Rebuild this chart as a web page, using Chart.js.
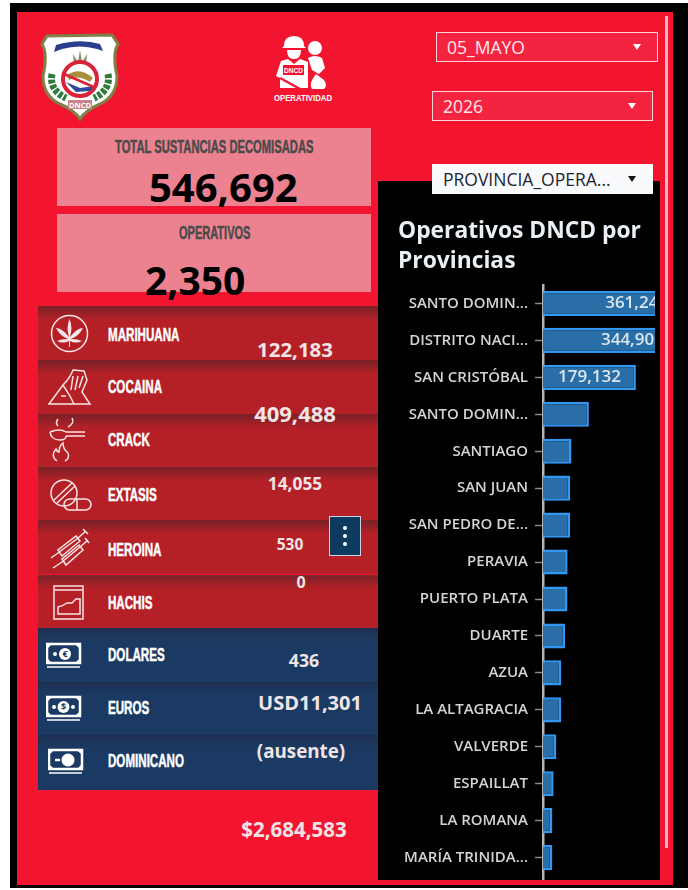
<!DOCTYPE html>
<html>
<head>
<meta charset="utf-8">
<title>Operativos DNCD</title>
<script src="https://cdn.jsdelivr.net/npm/chart.js@4"></script>
<style>
  html, body { margin: 0; padding: 0; background: #fff; }
  body { width: 688px; height: 890px; position: relative; overflow: hidden; font-family: "Open Sans", sans-serif; }
  .abs, #frame, #page, .card, .row, .val, .name, .drop, .icon, #panel, #scroll, #kebab { position: absolute; }
  #frame { left: 10px; top: 3px; width: 678px; height: 885px; background: #000; }
  #page { left: 17px; top: 12px; width: 656px; height: 873px; background: #f31530; }
  #scroll { left: 665px; top: 16px; width: 3px; height: 832px; background: #fbb4c0; }

  .card { left: 57px; width: 314px; background: #ec8290; }
  #card1 { top: 128px; height: 78px; }
  #card2 { top: 214px; height: 78px; }
  .cardTitle { position: absolute; color: #4a4a4a; font: bold 19px "Liberation Sans", sans-serif; -webkit-text-stroke: .5px #4a4a4a; white-space: nowrap; transform-origin: left center; }
  .big { position: absolute; color: #000; font-weight: 700; font-size: 40px; line-height: 40px; white-space: nowrap; }

  .row { left: 38px; width: 340px; height: 54px; }
  .row.red { background: linear-gradient(#7a2229 0, #8e2027 5px, #b52027 14px); }
  .row.blue { background: linear-gradient(#1f2e50 0, #1d3458 5px, #1b3a63 14px); }
  .name { left: 108px; color: #fff; font: bold 19px "Liberation Sans", sans-serif; -webkit-text-stroke: .5px #fff; white-space: nowrap; line-height: 20px; transform: scaleX(.61); transform-origin: left center; }
  .val { transform: translate(-50%, -50%); color: #f0e4e6; font-weight: 700; white-space: nowrap; }
  .icon { fill: none; stroke: #f7e4e4; stroke-width: 1.5; }

  .drop { box-sizing: border-box; border: 1.5px solid #fbd3da; background: #f4233f; color: #fde6ea; font-size: 17.5px; line-height: 28px; padding-left: 10px; white-space: nowrap; }
  .drop i { position: absolute; right: 16px; top: 11px; width: 0; height: 0; border-left: 4px solid transparent; border-right: 4px solid transparent; border-top: 6px solid #fff; }
  #drop3 { background: #f8fafc; border-color: #f8fafc; color: #1c2430; }
  #drop3 i { border-top-color: #111; }

  #panel { left: 378px; top: 181px; width: 282px; height: 699px; background: #000; overflow: hidden; }
  #panel canvas { position: absolute; left: 0; top: 0; }

  #kebab { left: 329px; top: 516px; width: 30px; height: 38px; background: #0e3a5f; border: 1px solid #c9d4de; }
  #kebab b { position: absolute; left: 13px; width: 4px; height: 4px; border-radius: 50%; background: #fff; }
</style>
</head>
<body>
<div id="frame"></div>
<div id="page"></div>
<div id="scroll"></div>

<!-- escudo -->
<svg class="abs" style="left:40px;top:32px" width="80" height="90" viewBox="0 0 80 90">
  <path d="M7 4 L72 3 L78 12 Q72 22 77 44 Q77 64 60 72 Q46 78 40 87 Q34 78 20 72 Q3 64 3 44 Q8 22 2 12 Z" fill="#fff" stroke="#7f8248" stroke-width="3"/>
  <path d="M16 13 Q40 6 60 12 L63 19 L57 17 Q40 12 22 17 L14 20 Z" fill="#2c3e8f"/>
  <path d="M12 42 Q9 58 26 66 M68 42 Q71 58 54 66" fill="none" stroke="#2f7a3c" stroke-width="7" stroke-dasharray="4 1.5"/>
  <path d="M40 18 L42 30 L47 22 L46 32 L34 32 L33 22 L38 30 Z" fill="#8a8f6a"/>
  <circle cx="40" cy="47" r="17" fill="#fff" stroke="#d92338" stroke-width="4"/>
  <path d="M27 43 Q40 34 53 46 L50 50 Q38 42 29 48 Z" fill="#a98f3c"/>
  <path d="M26 50 L40 56 L54 54 L50 59 L36 60 Z" fill="#2c4b9a"/>
  <path d="M24 42 L56 56" stroke="#d92338" stroke-width="2.5"/>
  <rect x="28" y="68" width="24" height="9" fill="#c9838a"/>
  <text x="40" y="75.5" font-size="7.5" font-weight="700" text-anchor="middle" fill="#fff" font-family="Open Sans">DNCD</text>
</svg>

<!-- operatividad -->
<svg class="abs" style="left:272px;top:34px" width="64" height="70" viewBox="0 0 64 70">
  <g fill="#fff">
    <path d="M12 12 Q12 2 22 2 Q32 2 32 12 L34 14 L10 14 Z"/>
    <path d="M15 16 H29 Q29 25 22 25 Q15 25 15 16 Z"/>
    <path d="M9 27 L16 25 L22 30 L28 25 L36 28 V54 H8 V44 L4 42 Z"/>
    <circle cx="43" cy="14" r="7"/>
    <path d="M36 24 Q43 20 50 24 L53 34 L47 40 L40 36 Z"/>
    <path d="M44 40 L52 46 Q56 52 52 55 H40 Q36 50 44 40 Z"/>
  </g>
  <rect x="11" y="31" width="21" height="10" fill="#f31530"/>
  <text x="12" y="39" font-size="8" font-weight="700" textLength="19" lengthAdjust="spacingAndGlyphs" fill="#fff" font-family="Liberation Sans">DNCD</text>
  <path d="M8 44 L30 56" stroke="#f31530" stroke-width="2"/>
  <text x="2" y="67" font-size="9.5" font-weight="700" textLength="58" lengthAdjust="spacingAndGlyphs" fill="#fff" font-family="Liberation Sans">OPERATIVIDAD</text>
</svg>

<div class="drop" style="left:436px;top:32px;width:222px;height:30px"><span id="month"></span><i></i></div>
<div class="drop" style="left:432px;top:91px;width:221px;height:30px"><span id="year"></span><i></i></div>

<div class="card" id="card1"></div>
<div class="card" id="card2"></div>
<div class="cardTitle" id="title1" style="left:115px;top:136px;transform:scaleX(.59)"></div>
<div class="cardTitle" id="title2" style="left:179px;top:222px;transform:scaleX(.58)"></div>
<div class="big" id="total" style="left:149px;top:167px"></div>
<div class="big" id="ops" style="left:145px;top:260px;font-size:39px"></div>

<div class="row red" style="top:306px"></div>
<div class="row red" style="top:360px"></div>
<div class="row red" style="top:414px"></div>
<div class="row red" style="top:467px"></div>
<div class="row red" style="top:520px"></div>
<div class="row red" style="top:575px;height:53px"></div>
<div class="row blue" style="top:628px"></div>
<div class="row blue" style="top:682px"></div>
<div class="row blue" style="top:735px;height:55px"></div>

<!-- iconos de las filas -->
<svg class="abs icon" style="left:50px;top:314px" width="40" height="40" viewBox="0 0 40 40" stroke-width="1.8">
  <circle cx="19.5" cy="19.5" r="18"/>
  <path d="M19.5 5 Q23 13 20 23 Q27 14 33 14 Q29 22 21 25 Q28 25 32 27 Q26 30 20 27 L20 33 L19 33 L19 27 Q13 30 7 27 Q11 25 18 25 Q10 22 6 14 Q12 14 19 23 Q16 13 19.5 5 Z" fill="#f7e4e4" stroke="none"/>
</svg>
<svg class="abs icon" style="left:48px;top:368px" width="44" height="38" viewBox="0 0 44 38">
  <path d="M1 36 L15 17 Q22 10 25 2 L36 3 L39 12 L34 24 L42 36 Z M15 17 L22 28 L26 36"/>
  <path d="M25 8 L23 22 M30 8 L27 22 M35 8 L31 20"/>
  <path d="M13 28 H18"/>
</svg>
<svg class="abs icon" style="left:48px;top:416px" width="38" height="48" viewBox="0 0 38 48">
  <path d="M2 16 Q12 12 18 16 H37 M18 20 H37 M2 16 Q3 24 12 24 Q18 24 18 20"/>
  <path d="M10 3 Q7 7 10 10 M24 2 Q27 7 20 11"/>
  <path d="M9 45 Q2 40 8 33 Q9 36 11 36 Q11 30 15 27 Q15 33 20 37 Q22 42 17 45"/>
</svg>
<svg class="abs icon" style="left:50px;top:479px" width="42" height="32" viewBox="0 0 42 32">
  <circle cx="14" cy="14" r="13"/>
  <path d="M4 21 L22 4 M7 24 L25 7"/>
  <rect x="14" y="20" width="27" height="11" rx="5.5"/>
  <path d="M27 20 V31"/>
</svg>
<svg class="abs icon" style="left:50px;top:528px" width="40" height="42" viewBox="0 0 40 42" stroke-width="1.3">
  <path d="M1 30 L8 25 L28 10 L36 3 M33 1 L38 6 M8 22 L12 28 L30 13 L26 8 Z"/>
  <path d="M3 40 L12 34 L30 19 L38 12 M35 10 L39 15 M12 31 L16 37 L33 22 L29 17 Z"/>
</svg>
<svg class="abs icon" style="left:53px;top:585px" width="32" height="36" viewBox="0 0 32 36">
  <rect x="1" y="1" width="29" height="33"/>
  <path d="M1 5 H30"/>
  <path d="M5 29 V22 Q10 21 14 18 L19 18 L23 14 H27 V29 Z"/>
</svg>
<svg class="abs" style="left:46px;top:642px" width="36" height="30" viewBox="0 0 36 30">
  <rect x="1" y="2" width="33" height="19" fill="none" stroke="#fff" stroke-width="2.5"/>
  <path d="M1 2h5l-5 5zM34 2h-5l5 5zM1 21h5l-5-5zM34 21h-5l5-5z" fill="#fff"/>
  <circle cx="9" cy="12" r="2" fill="#fff"/><circle cx="19" cy="12" r="6" fill="#fff"/>
  <text x="19" y="15" font-size="9" font-weight="700" text-anchor="middle" fill="#1b3a63" font-family="Open Sans">€</text>
  <path d="M1 25 H34" stroke="#fff" stroke-width="1.5"/>
</svg>
<svg class="abs" style="left:46px;top:695px" width="36" height="30" viewBox="0 0 36 30">
  <rect x="1" y="2" width="33" height="19" fill="none" stroke="#fff" stroke-width="2.5"/>
  <path d="M1 2h5l-5 5zM34 2h-5l5 5zM1 21h5l-5-5zM34 21h-5l5-5z" fill="#fff"/>
  <circle cx="8" cy="12" r="2" fill="#fff"/><circle cx="27" cy="12" r="2" fill="#fff"/><circle cx="17.5" cy="12" r="6" fill="#fff"/>
  <text x="17.5" y="15" font-size="9" font-weight="700" text-anchor="middle" fill="#1b3a63" font-family="Open Sans">$</text>
  <path d="M1 25 H34" stroke="#fff" stroke-width="1.5"/>
</svg>
<svg class="abs" style="left:48px;top:748px" width="36" height="30" viewBox="0 0 36 30">
  <rect x="1" y="2" width="33" height="19" fill="none" stroke="#fff" stroke-width="2.5"/>
  <path d="M1 2h5l-5 5zM34 2h-5l5 5zM1 21h5l-5-5zM34 21h-5l5-5z" fill="#fff"/>
  <circle cx="20" cy="12" r="6.5" fill="#fff"/>
  <path d="M7 12 H12" stroke="#fff" stroke-width="2.5"/>
  <path d="M1 25 H34" stroke="#fff" stroke-width="1.5"/>
</svg>

<div id="labels"></div>

<div id="kebab"><b style="top:9px"></b><b style="top:17px"></b><b style="top:25px"></b></div>

<div id="panel"><canvas id="chart" width="282" height="748"></canvas></div>
<div class="drop" id="drop3" style="left:432px;top:164px;width:221px;height:30px"><span id="prov"></span><i></i></div>

<script>
// ====== DATA ======
const PROVINCES = [
  "SANTO DOMIN...", "DISTRITO NACI...", "SAN CRISTÓBAL", "SANTO DOMIN...",
  "SANTIAGO", "SAN JUAN", "SAN PEDRO DE...", "PERAVIA",
  "PUERTO PLATA", "DUARTE", "AZUA", "LA ALTAGRACIA",
  "VALVERDE", "ESPAILLAT", "LA ROMANA", "MARÍA TRINIDA...",
  " "
];
const OPERATIVOS = [
  361245, 344908, 179132, 88500,
  55000, 52600, 52600, 47500,
  47300, 42400, 35200, 35200,
  25700, 20500, 18000, 18000,
  16000
];
const LABELED_BARS = 3;

const ITEM_NAMES = ["MARIHUANA", "COCAINA", "CRACK", "EXTASIS", "HEROINA", "HACHIS", "DOLARES", "EUROS", "DOMINICANO"];
const ITEM_VALUES = ["122,183", "409,488", "14,055", "530", "0", "436", "USD11,301", "(ausente)", "$2,684,583"];
const FILTERS = ["05_MAYO", "2026", "PROVINCIA_OPERA..."];
const KPI_TITLES = ["TOTAL SUSTANCIAS DECOMISADAS", "OPERATIVOS"];
const KPI_VALUES = ["546,692", "2,350"];
const CHART_TITLE = ["Operativos DNCD por", "Provincias"];

// ====== LAYOUT of the html labels ======
const NAME_Y = [335, 387, 440, 495, 550, 603, 655, 708, 761];
const VALUE_POS = [
  { x: 295, y: 349, size: 20.4 },
  { x: 295, y: 413, size: 22 },
  { x: 295, y: 483, size: 17.3 },
  { x: 290, y: 544, size: 15.5 },
  { x: 301, y: 582, size: 16 },
  { x: 304, y: 660, size: 17.8 },
  { x: 310, y: 702, size: 20 },
  { x: 301, y: 751, size: 18.8 },
  { x: 294, y: 829, size: 20.5 }
];

const $ = (id) => document.getElementById(id);

$("month").textContent = FILTERS[0];
$("year").textContent = FILTERS[1];
$("prov").textContent = FILTERS[2];
$("title1").textContent = KPI_TITLES[0];
$("title2").textContent = KPI_TITLES[1];
$("total").textContent = KPI_VALUES[0];
$("ops").textContent = KPI_VALUES[1];

const labels = $("labels");
ITEM_NAMES.forEach((name, i) => {
  const div = document.createElement("div");
  div.className = "name";
  div.textContent = name;
  div.style.top = (NAME_Y[i] - 10) + "px";
  labels.appendChild(div);
});
ITEM_VALUES.forEach((v, i) => {
  const div = document.createElement("div");
  const p = VALUE_POS[i];
  div.className = "val";
  div.textContent = v;
  div.style.left = p.x + "px";
  div.style.top = p.y + "px";
  div.style.fontSize = p.size + "px";
  labels.appendChild(div);
});

// no datalabels plugin here, so the bar values get drawn by hand
const barValues = {
  id: "barValues",
  afterDatasetsDraw(chart) {
    const { ctx, chartArea } = chart;
    const meta = chart.getDatasetMeta(0);
    ctx.save();
    ctx.beginPath();
    ctx.rect(chartArea.left, chartArea.top, chartArea.right - chartArea.left, chartArea.bottom - chartArea.top);
    ctx.clip();
    ctx.font = "600 17px 'Open Sans'";
    ctx.fillStyle = "#dbe6ef";
    ctx.textAlign = "center";
    ctx.textBaseline = "middle";
    meta.data.slice(0, LABELED_BARS).forEach((bar, i) => {
      const x = (bar.base + bar.x) / 2;
      ctx.fillText(OPERATIVOS[i].toLocaleString("en-US"), x, bar.y);
    });
    ctx.restore();
  }
};

new Chart($("chart"), {
  type: "bar",
  data: {
    labels: PROVINCES,
    datasets: [{
      data: OPERATIVOS,
      backgroundColor: "#2a6ea8",
      borderColor: "#3197f0",
      borderWidth: 2.5,
      barPercentage: 0.68,
      categoryPercentage: 1
    }]
  },
  options: {
    indexAxis: "y",
    responsive: false,
    animation: false,
    layout: { padding: { left: 20, right: 5, top: 0, bottom: 0 } },
    plugins: {
      legend: { display: false },
      tooltip: { enabled: false },
      title: {
        display: true,
        text: CHART_TITLE,
        align: "start",
        color: "#eaf0f5",
        font: { family: "'Open Sans'", size: 22.8, weight: "bold", lineHeight: 30 / 22.8 },
        padding: { top: 36, bottom: 8 }
      }
    },
    scales: {
      x: { display: false, min: 0, max: 216000 },
      y: {
        afterFit(scale) { scale.width = 145; },
        border: { color: "#b4b4b4", width: 2.5 },
        grid: { offset: false, drawOnChartArea: false, tickColor: "#8a8a8a", tickLength: 8, tickWidth: 1.5 },
        ticks: {
          autoSkip: false,
          color: "#d4d4d4",
          padding: 7,
          font: { family: "'Open Sans'", size: 15, weight: "600" }
        }
      }
    }
  },
  plugins: [barValues]
});
</script>
</body>
</html>
